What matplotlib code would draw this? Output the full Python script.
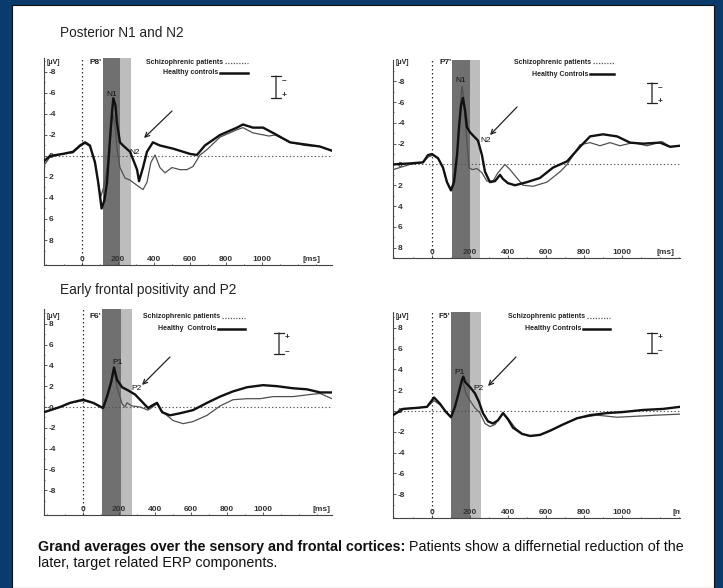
import matplotlib
matplotlib.use('Agg')
import matplotlib.pyplot as plt
from matplotlib.lines import Line2D
from matplotlib.patches import Rectangle, FancyArrowPatch

plt.rcParams['font.family'] = ['Liberation Sans', 'DejaVu Sans']
plt.rcParams['axes.unicode_minus'] = False

W, H = 723, 588

# ---- grand averages: time (ms), amplitude (uV) ----
# P8' (posterior, right)
p8_hc_t = [-211, -178, -106, -50, -11, 17, 44, 72, 90, 109, 125, 139, 156, 167, 174,
           186, 194, 211, 228, 267, 306, 317, 339, 361, 394, 433, 506, 600, 639, 683,
           767, 861, 894, 950, 1006, 1072, 1156, 1239, 1322, 1389]
p8_hc_v = [0.5, 0.0, -0.2, -0.4, -1.0, -1.3, -1.0, 0.6, 2.5, 5.0, 4.2, 2.5, -1.7, -4.2, -5.5,
           -4.8, -3.2, -1.3, -1.0, -0.4, 1.3, 2.4, 1.1, -0.4, -1.3, -1.0, -0.7, -0.2, -0.1, -1.0,
           -2.0, -2.7, -3.0, -2.7, -2.7, -2.1, -1.3, -1.1, -0.9, -0.5]
p8_sz_t = [-211, -178, -106, -50, -11, 17, 44, 72, 90, 104, 120, 139, 156, 167, 174,
           184, 194, 211, 239, 267, 306, 339, 361, 383, 406, 433, 461, 500, 544, 583,
           617, 656, 694, 767, 861, 894, 950, 1039, 1072, 1156, 1239, 1322, 1389]
p8_sz_v = [0.9, 0.1, -0.2, -0.3, -0.9, -1.2, -0.9, 0.5, 2.5, 3.9, 3.0, 1.2, -1.5, -3.3, -3.9,
           -2.8, -0.8, 1.1, 2.1, 2.3, 2.8, 3.2, 2.5, 0.6, -0.1, 1.1, 1.6, 1.1, 1.3, 1.3,
           1.0, -0.1, -0.6, -1.8, -2.5, -2.7, -2.2, -1.9, -2.0, -1.3, -1.0, -0.9, -0.5]

# P7' (posterior, left)
p7_hc_t = [-205, -116, -47, -21, 0, 32, 58, 79, 100, 116, 132, 142, 153, 163, 174,
           184, 200, 226, 242, 263, 279, 305, 332, 358, 374, 400, 437, 500, 568, 637,
           711, 779, 832, 900, 974, 1042, 1111, 1200, 1253, 1305]
p7_hc_v = [0.0, -0.1, -0.2, -0.9, -1.0, -0.6, 0.3, 1.7, 2.5, 1.7, -0.9, -3.5, -5.7, -6.4, -5.2,
           -3.6, -3.1, -2.6, -2.3, -0.9, 0.7, 1.7, 1.6, 1.0, 1.4, 1.8, 2.0, 1.7, 1.3, 0.3,
           -0.3, -1.7, -2.7, -2.9, -2.7, -2.1, -2.0, -2.1, -1.7, -1.8]
p7_sz_t = [-205, -116, -47, -21, 5, 32, 58, 79, 100, 116, 132, 142, 153, 158, 166,
           176, 184, 195, 211, 237, 263, 289, 321, 347, 384, 411, 447, 479, 532, 605,
           674, 711, 779, 832, 884, 937, 989, 1058, 1132, 1211, 1253, 1305]
p7_sz_v = [0.5, 0.0, -0.2, -0.7, -0.9, -0.6, 0.3, 1.7, 2.4, 1.6, -1.0, -4.0, -6.5, -7.5, -6.6,
           -4.0, -2.2, 0.3, 0.5, 0.4, 0.8, 1.6, 1.6, 0.8, 0.0, 0.5, 1.3, 2.0, 2.1, 1.7,
           0.7, 0.0, -1.9, -2.1, -1.8, -2.1, -1.8, -2.1, -1.8, -2.2, -1.7, -1.8]

# F6' (frontal, right)
f6_hc_t = [-217, -128, -72, 0, 56, 111, 133, 156, 172, 189, 217, 250, 289, 328, 361,
           389, 411, 439, 483, 539, 611, 689, 761, 833, 911, 1000, 1078, 1167, 1244, 1317, 1383]
f6_hc_v = [-0.5, 0.0, 0.4, 0.7, 0.4, -0.1, 1.0, 2.4, 3.8, 2.6, 1.9, 1.6, 1.2, 0.5, -0.1,
           0.2, 0.4, -0.5, -0.8, -0.6, -0.3, 0.4, 1.0, 1.5, 1.9, 2.1, 2.0, 1.8, 1.7, 1.4, 1.4]
f6_sz_t = [-217, -128, -72, 0, 56, 111, 133, 156, 172, 189, 217, 233, 244, 272, 317,
           361, 411, 444, 500, 556, 611, 689, 761, 833, 911, 983, 1056, 1167, 1261, 1317, 1383]
f6_sz_v = [-0.5, 0.0, 0.4, 0.6, 0.4, -0.1, 0.9, 2.2, 3.5, 1.9, 0.3, 0.0, 0.4, 0.1, 0.0,
           -0.3, 0.3, -0.5, -1.3, -1.6, -1.4, -0.8, 0.1, 0.7, 0.8, 0.8, 1.0, 1.0, 1.2, 1.3, 0.8]

# F5' (frontal, left)
f5_hc_t = [-205, -153, -79, -26, 11, 42, 74, 100, 121, 137, 158, 165, 174, 200, 226,
           247, 268, 295, 321, 347, 374, 400, 426, 474, 516, 568, 621, 689, 763, 832,
           921, 1005, 1111, 1216, 1305]
f5_hc_v = [-0.4, 0.2, 0.3, 0.4, 1.3, 0.7, -0.1, -0.6, 0.4, 1.5, 3.0, 3.3, 2.8, 2.3, 1.7,
           0.9, -0.2, -1.0, -1.2, -0.9, -0.2, -0.8, -1.6, -2.2, -2.4, -2.3, -1.9, -1.3, -0.7, -0.4,
           -0.2, -0.1, 0.1, 0.2, 0.4]
f5_sz_t = [-205, -153, -79, -26, 11, 42, 74, 100, 121, 137, 158, 179, 200, 226, 253,
           279, 305, 332, 358, 374, 400, 437, 474, 516, 568, 621, 689, 763, 868, 974,
           1079, 1184, 1305]
f5_sz_v = [-0.4, 0.2, 0.3, 0.4, 1.0, 0.6, -0.1, -0.5, 0.4, 1.4, 3.1, 1.7, 1.0, 0.3, -0.2,
           -1.2, -1.5, -1.3, -0.6, -0.2, -0.7, -1.6, -2.2, -2.4, -2.3, -1.9, -1.3, -0.7, -0.4, -0.6,
           -0.5, -0.4, -0.3]

y_ticks = [-8, -6, -4, -2, 0, 2, 4, 6, 8]
x_ticks = [0, 200, 400, 600, 800, 1000]

fig = plt.figure(figsize=(W / 100, H / 100), dpi=100)
fig.patch.set_facecolor('#0b3a6c')
fig.add_artist(Rectangle((12 / W, 0), (714 - 12) / W, 1 - 5 / H, transform=fig.transFigure,
                         facecolor='white', edgecolor='#111111', lw=0.8, zorder=-1))


def fp(x, y):
    return (x / W, 1 - y / H)


def ftext(x, y, s, **kw):
    kw.setdefault('color', '#222222')
    fig.text(x / W, 1 - y / H, s, **kw)


def arrow(p0, p1, style='->', ms=8, lw=0.9):
    fig.add_artist(FancyArrowPatch(fp(*p0), fp(*p1), transform=fig.transFigure,
                                   arrowstyle=style, mutation_scale=ms, lw=lw,
                                   color='#222222', shrinkA=0, shrinkB=0))


def panel(box, xlim, ylim, hc_t, hc_v, sz_t, sz_v, dark, light, ms_x):
    x0, y0, x1, y1 = box
    ax = fig.add_axes([x0 / W, 1 - y1 / H, (x1 - x0) / W, (y1 - y0) / H])
    ax.set_facecolor('none')
    ax.axvspan(*dark, color='#707070', lw=0, zorder=1)
    ax.axvspan(*light, color='#bdbdbd', lw=0, zorder=1)
    ax.axhline(0, color='#555555', lw=0.8, ls=(0, (1.2, 2.0)), zorder=2)
    ax.axvline(0, color='#333333', lw=0.9, ls=(0, (1.2, 2.0)), zorder=2)
    ax.plot(sz_t, sz_v, color='#505050', lw=0.9, zorder=3)
    ax.plot(hc_t, hc_v, color='#111111', lw=1.7, zorder=4)
    ax.set_xlim(xlim)
    ax.set_ylim(ylim)
    for s in ['top', 'right']:
        ax.spines[s].set_visible(False)
    for s in ['left', 'bottom']:
        ax.spines[s].set_color('#444444')
        ax.spines[s].set_linewidth(0.8)
    ax.set_yticks(y_ticks, labels=[str(v) for v in y_ticks], ha='left', fontweight='bold')
    ax.set_xticks(x_ticks, labels=[str(v) for v in x_ticks], va='bottom', fontweight='bold')
    ax.set_yticks(range(-9, 10), minor=True)
    ax.set_xticks(range(-200, 1400, 100), minor=True)
    ax.tick_params(axis='y', which='both', direction='in', length=2, width=0.6,
                   pad=-3.5, labelsize=6, labelcolor='#333333', color='#444444')
    ax.tick_params(axis='x', which='both', direction='in', length=2, width=0.6,
                   pad=-1.5, labelsize=6, labelcolor='#333333', color='#444444')
    ax.tick_params(which='minor', length=1)
    ax.annotate('[ms]', xy=(ms_x, 0), xycoords=('data', 'axes fraction'),
                xytext=(0, 1.5), textcoords='offset points', ha='left', va='bottom',
                fontsize=6, fontweight='bold', color='#333333', annotation_clip=False,
                clip_on=True)
    return ax


panel((44, 58, 332, 265), (-211, 1389), (10.38, -9.33),
      p8_hc_t, p8_hc_v, p8_sz_t, p8_sz_v, (115, 211), (211, 271), 1225)
panel((393, 60, 680, 258), (-205, 1305), (9.0, -10.05),
      p7_hc_t, p7_hc_v, p7_sz_t, p7_sz_v, (104, 200), (200, 253), 1180)
panel((44, 309, 332, 515), (-217, 1383), (-10.38, 9.42),
      f6_hc_t, f6_hc_v, f6_sz_t, f6_sz_v, (106, 211), (211, 272), 1275)
panel((393, 312, 680, 518), (-205, 1305), (-10.29, 9.52),
      f5_hc_t, f5_hc_v, f5_sz_t, f5_sz_v, (100, 200), (200, 258), 1265)

# section titles
ftext(60, 33, 'Posterior N1 and N2', fontsize=9.8, va='center')
ftext(60, 290, 'Early frontal positivity and P2', fontsize=9.8, va='center')

# unit / electrode labels
for x, y in [(47, 62), (396, 62), (47, 317), (396, 317)]:
    ftext(x, y, '[\u03bcV]', fontsize=5, fontweight='bold', va='center')
electrodes = [("P8'", 89, 62), ("P7'", 440, 62), ("F6'", 90, 317), ("F5'", 439, 317)]
for name, x, y in electrodes:
    ftext(x, y, name, fontsize=6, fontweight='bold', va='center')

# legends
legends = [(223, 62, 218, 73, 'Healthy controls', 248),
           (591, 62, 588, 74, 'Healthy Controls', 614),
           (220, 317, 216, 329, 'Healthy  Controls', 245),
           (585, 317, 581, 329, 'Healthy Controls', 610)]
for sx, sy, hx, hy, hlabel, xend in legends:
    ftext(sx, sy, 'Schizophrenic patients', fontsize=5, fontweight='bold', ha='right', va='center')
    ftext(hx, hy, hlabel, fontsize=5, fontweight='bold', ha='right', va='center')
    fig.add_artist(Line2D([(sx + 2) / W, xend / W], [1 - (sy + 1) / H] * 2,
                          transform=fig.transFigure, color='#555555', lw=0.9, ls=(0, (1, 1.2))))
    fig.add_artist(Line2D([(hx + 2) / W, xend / W], [1 - hy / H] * 2,
                          transform=fig.transFigure, color='#111111', lw=1.8))

# polarity scale bars
bars = [(276, 76, 98, '\u2013', '+'), (652, 83, 103, '\u2013', '+'),
        (279, 333, 354, '+', '\u2013'), (652, 333, 353, '+', '\u2013')]
for x, ya, yb, top, bottom in bars:
    arrow((x, ya), (x, yb), style='|-|,widthA=0.35,widthB=0.35', ms=10, lw=0.9)
    ftext(x + 6, ya + 5, top, fontsize=6, fontweight='bold', va='center')
    ftext(x + 6, yb - 2, bottom, fontsize=6, fontweight='bold', va='center')

# arrows pointing at the reduced components
arrow((172, 111), (144, 138))
arrow((517, 107), (490, 135))
arrow((170, 357), (142, 385))
arrow((516, 357), (488, 386))

# component labels
peaks = [('N1', 112, 94), ('N2', 135, 153), ('N1', 461, 80), ('N2', 486, 140),
         ('P1', 118, 362), ('P2', 136, 389), ('P1', 460, 373), ('P2', 479, 389)]
for name, x, y in peaks:
    ftext(x, y, name, fontsize=6, ha='center', va='center', color='#111111')

# caption
cap_bold = fig.text(38 / W, 1 - 547 / H, 'Grand averages over the sensory and frontal cortices:',
                    fontsize=10.3, fontweight='bold', va='center', color='#111111')
fig.canvas.draw()
bb = cap_bold.get_window_extent(renderer=fig.canvas.get_renderer())
fig.text(bb.x1 / W + 4 / W, 1 - 547 / H, 'Patients show a differnetial reduction of the',
         fontsize=10.3, va='center', color='#111111')
fig.text(38 / W, 1 - 563 / H, 'later, target related ERP components.',
         fontsize=10.3, va='center', color='#111111')

fig.savefig('out.png', dpi=100, facecolor=fig.get_facecolor())
